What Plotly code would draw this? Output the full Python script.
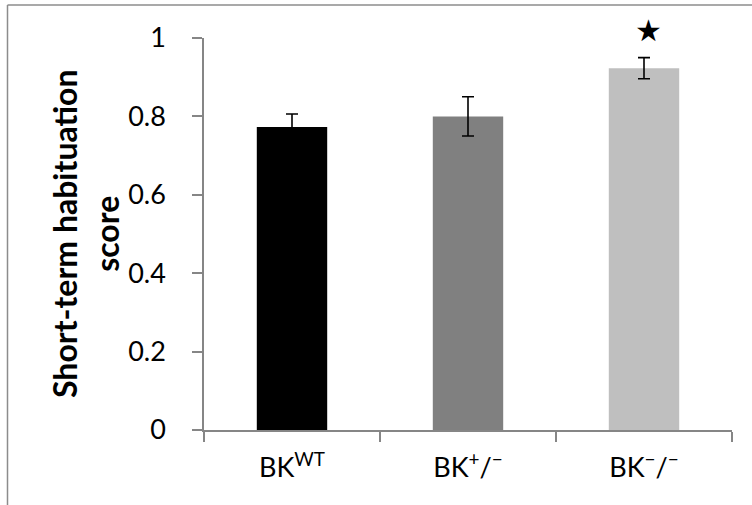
import plotly.graph_objects as go

categories = ["BK<sup>WT</sup>", "BK<sup>+</sup>/<sup>−</sup>", "BK<sup>−</sup>/<sup>−</sup>"]
values = [0.773, 0.800, 0.923]
errors = [0.033, 0.050, 0.027]
colors = ["#000000", "#808080", "#BFBFBF"]
y_ticks = [0, 0.2, 0.4, 0.6, 0.8, 1]
y_title = "Short-term habituation<br>score"
star_label = "★"

W, H = 752, 505
L, R, T, B = 204, 20, 38, 75
pw, ph = W - L - R, H - T - B

def px_x(px):
    return (px - L) / pw

def px_y(py):
    return (H - B - py) / ph

fig = go.Figure()
fig.add_trace(go.Bar(
    x=categories, y=values,
    marker=dict(color=colors, line=dict(width=0)),
    width=0.4,
    error_y=dict(type="data", array=errors, color="#000000", thickness=1.6, width=6),
))

fig.add_annotation(
    x=categories[2], y=1, xref="x", yref="y", text=star_label, showarrow=False,
    font=dict(size=30, color="#000000", family="DejaVu Sans"),
    xshift=4, yshift=8, yanchor="middle",
)

fig.add_annotation(
    x=px_x(85), y=0.5, xref="paper", yref="paper", text=y_title, showarrow=False,
    textangle=-90, xanchor="center", yanchor="middle",
    font=dict(size=32, color="#000000", family="Lato", weight="bold"),
)

border = dict(color="#8C8C8C", width=1.5)
fig.add_shape(type="line", xref="paper", yref="paper", x0=px_x(7.5), x1=px_x(760),
              y0=px_y(5), y1=px_y(5), line=border)
fig.add_shape(type="line", xref="paper", yref="paper", x0=px_x(7.5), x1=px_x(7.5),
              y0=px_y(5), y1=px_y(520), line=border)

fig.update_layout(
    width=W, height=H,
    margin=dict(l=L, r=R, t=T, b=B, pad=0),
    paper_bgcolor="white", plot_bgcolor="white",
    showlegend=False,
    font=dict(family="Lato", size=27, color="#000000"),
)
fig.update_xaxes(
    type="category", range=[-0.5, 2.5],
    showline=True, linecolor="#868686", linewidth=1.5,
    ticks="outside", tickson="boundaries", ticklen=10, tickcolor="#868686", tickwidth=1.5,
    showgrid=False, ticklabelstandoff=13,
    tickfont=dict(family="Lato", size=27, color="#000000"),
)
fig.update_yaxes(
    range=[0, 1], tickvals=y_ticks,
    showline=True, linecolor="#868686", linewidth=1.5,
    ticks="outside", ticklen=10, tickcolor="#868686", tickwidth=1.5,
    showgrid=False, zeroline=False, ticklabelstandoff=21,
    tickfont=dict(family="Lato", size=27, color="#000000"),
)

fig.write_html(
    "out.html",
    config={"displayModeBar": False},
    post_script="document.body.style.margin='0';document.body.style.padding='0';",
)
